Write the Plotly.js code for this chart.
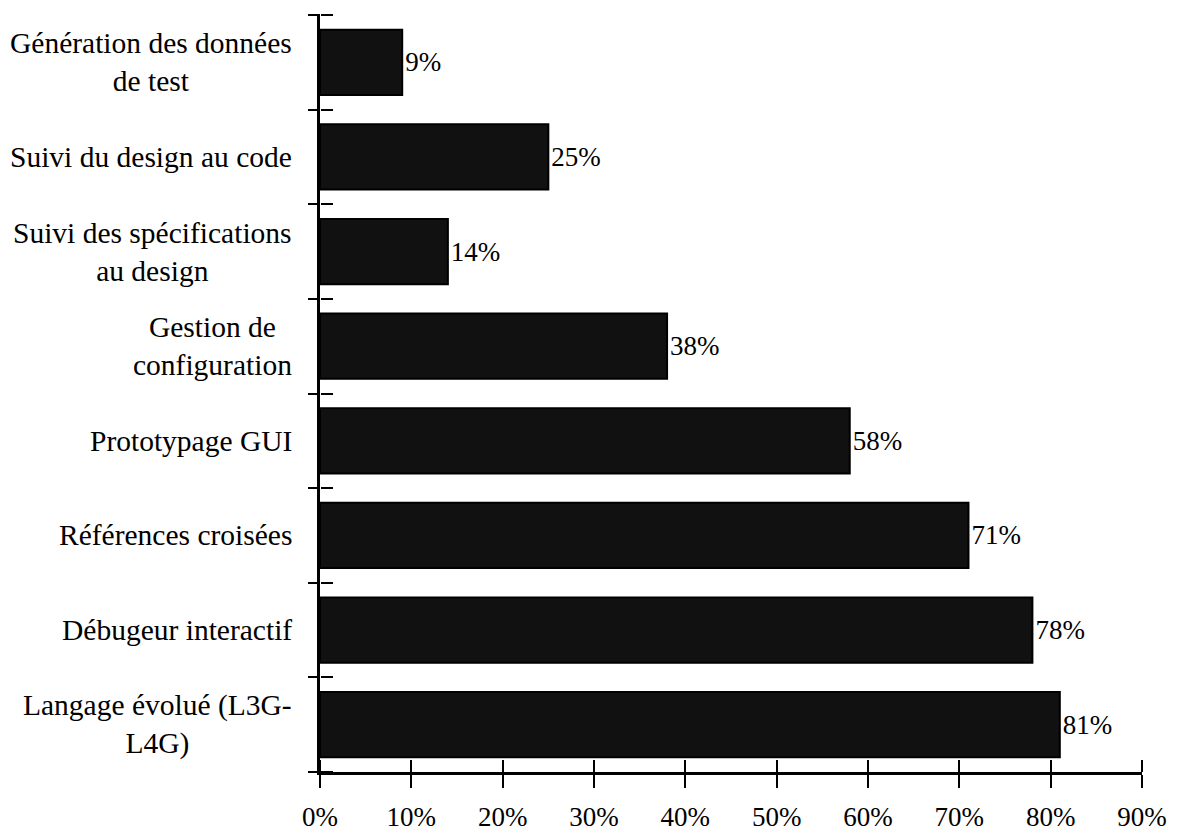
<!DOCTYPE html>
<html>
<head>
<meta charset="utf-8">
<script src="https://cdn.plot.ly/plotly-3.0.1.min.js"></script>
<style>html,body{margin:0;padding:0;background:#fff;}#chart{width:1180px;height:833px;}</style>
</head>
<body>
<div id="chart"></div>
<script>
// Categories listed from bottom to top
const categories = [
  "Langage évolué (L3G-L4G)",
  "Débugeur interactif",
  "Références croisées",
  "Prototypage GUI",
  "Gestion de configuration",
  "Suivi des spécifications au design",
  "Suivi du design au code",
  "Génération des données de test"
];
const categoryLabels = [
  "Langage évolué (L3G-<br>L4G)",
  "Débugeur interactif",
  "Références croisées",
  "Prototypage GUI",
  "Gestion de<br>configuration",
  "Suivi des spécifications<br>au design",
  "Suivi du design au code",
  "Génération des données<br>de test"
];
const values = [81, 78, 71, 58, 38, 14, 25, 9];
const xTicks = [0, 10, 20, 30, 40, 50, 60, 70, 80, 90];

const FONT = "'Liberation Serif', 'Times New Roman', serif";
const n = categories.length;
const boundaries = [];
for (let i = 0; i <= n; i++) boundaries.push(i - 0.5);

const bars = {
  type: "bar",
  orientation: "h",
  y: categories,
  x: values,
  width: 0.69,
  marker: {color: "#111111", line: {color: "#000000", width: 2}},
  text: values.map(v => v + "%"),
  textposition: "outside",
  textfont: {family: FONT, size: 27, color: "#000"},
  cliponaxis: false,
  hoverinfo: "skip"
};
// empty helper traces so the overlay axes (crossing tick marks) get drawn
const helperA = {type: "scatter", mode: "markers", x: [], y: [], xaxis: "x2", yaxis: "y2", hoverinfo: "skip", showlegend: false};
const helperB = {type: "scatter", mode: "markers", x: [], y: [], xaxis: "x", yaxis: "y3", hoverinfo: "skip", showlegend: false};

const annotations = categories.map((c, i) => ({
  xref: "paper", yref: "y",
  x: 0, y: c,
  xanchor: "right", yanchor: "middle",
  xshift: -26,
  text: categoryLabels[i],
  align: "center",
  showarrow: false,
  font: {family: FONT, size: 29.5, color: "#000"}
}));

const axisCommon = {showgrid: false, zeroline: false, fixedrange: true};

const layout = {
  width: 1180, height: 833,
  margin: {l: 320, r: 38, t: 15, b: 61},
  paper_bgcolor: "#fff", plot_bgcolor: "#fff",
  font: {family: FONT, size: 27, color: "#000"},
  showlegend: false,
  xaxis: Object.assign({}, axisCommon, {
    range: [0, 90],
    tickvals: xTicks,
    ticktext: xTicks.map(v => v + "%"),
    ticks: "outside", ticklen: 13, tickwidth: 2, tickcolor: "#000",
    showline: true, linewidth: 3, linecolor: "#000",
    tickfont: {family: FONT, size: 27, color: "#000"},
    ticklabelstandoff: 6
  }),
  // upward half of the crossing x tick marks
  xaxis2: Object.assign({}, axisCommon, {
    overlaying: "x", anchor: "free", position: 0, side: "top",
    range: [0, 90],
    tickvals: xTicks,
    ticks: "outside", ticklen: 12, tickwidth: 2, tickcolor: "#000",
    showticklabels: false, showline: false
  }),
  yaxis: Object.assign({}, axisCommon, {
    type: "category",
    categoryorder: "array", categoryarray: categories,
    range: [-0.5, n - 0.5],
    showticklabels: false,
    ticks: "",
    showline: true, linewidth: 3, linecolor: "#000"
  }),
  // left half of the crossing y tick marks (category boundaries)
  yaxis2: Object.assign({}, axisCommon, {
    overlaying: "y", anchor: "free", position: 0, side: "left",
    range: [-0.5, n - 0.5],
    tickvals: boundaries,
    ticks: "outside", ticklen: 12, tickwidth: 2, tickcolor: "#000",
    showticklabels: false, showline: false
  }),
  // right half of the crossing y tick marks
  yaxis3: Object.assign({}, axisCommon, {
    overlaying: "y", anchor: "free", position: 0, side: "right",
    range: [-0.5, n - 0.5],
    tickvals: boundaries,
    ticks: "outside", ticklen: 12, tickwidth: 2, tickcolor: "#000",
    showticklabels: false, showline: false
  }),
  bargap: 0.31,
  annotations: annotations
};

Plotly.newPlot("chart", [bars, helperA, helperB], layout, {displayModeBar: false, staticPlot: true});
</script>
</body>
</html>
